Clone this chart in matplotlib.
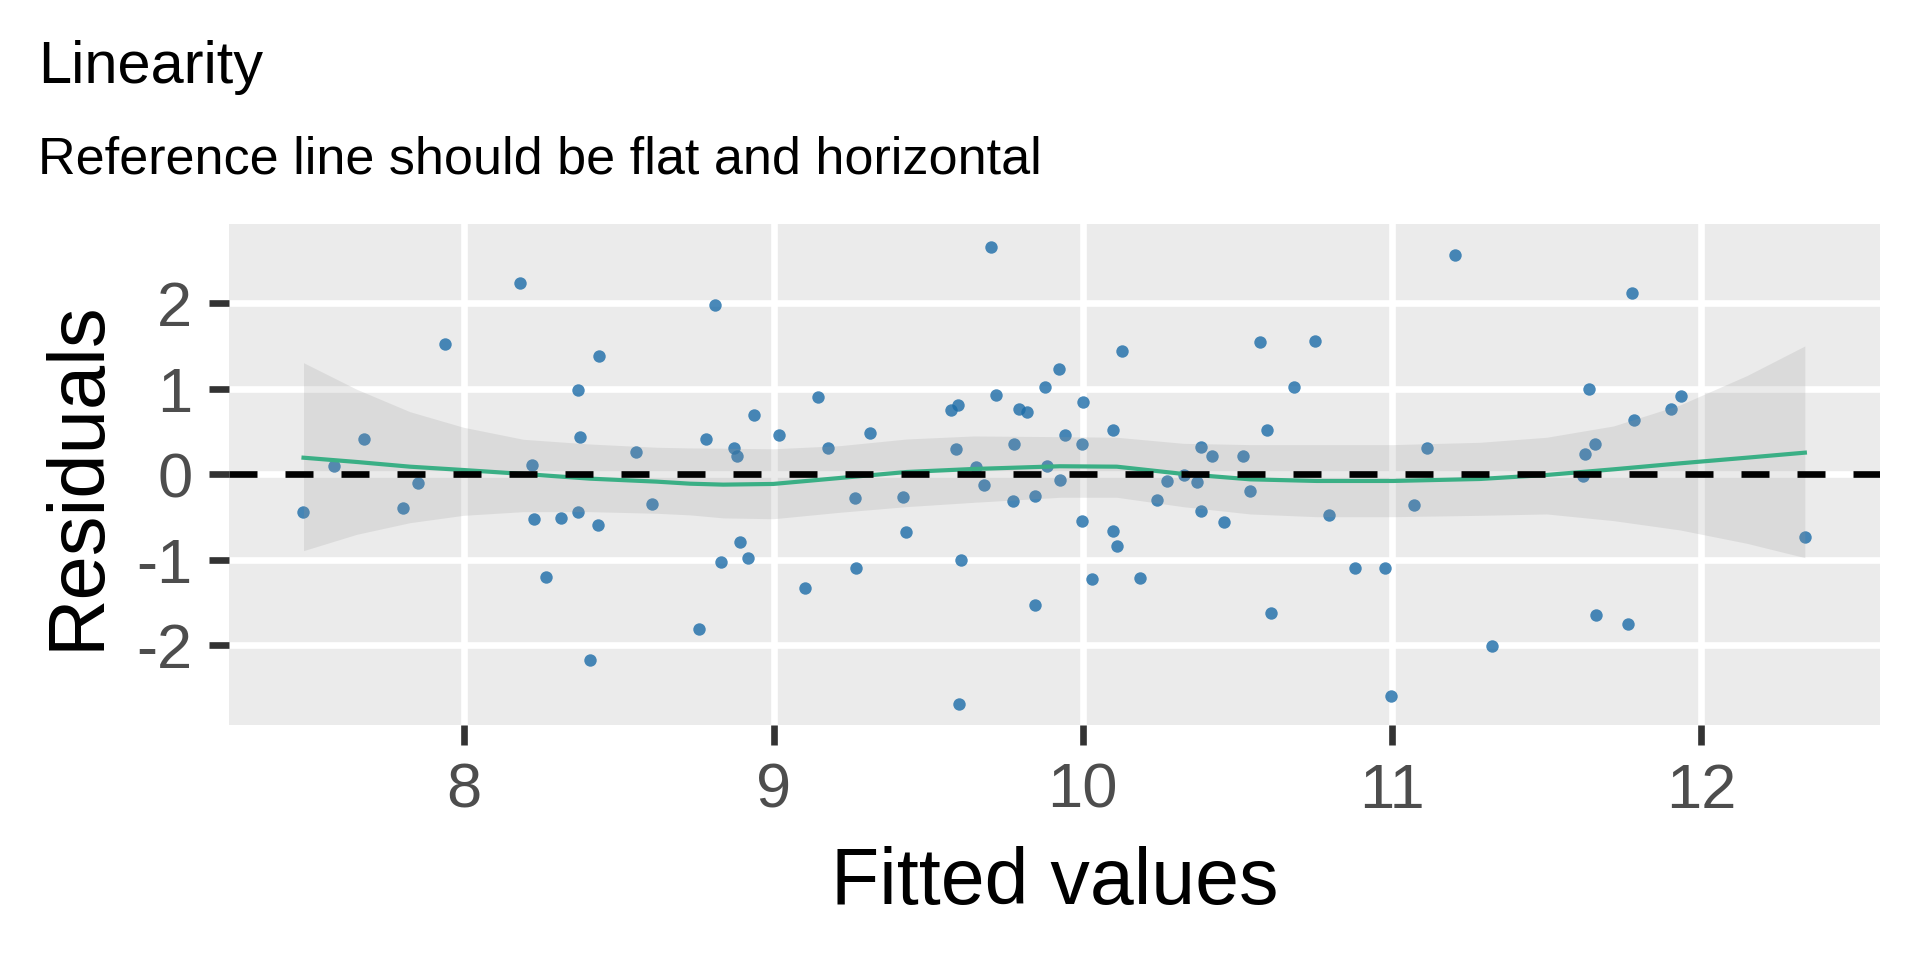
import matplotlib
matplotlib.use("Agg")
import matplotlib.pyplot as plt

plt.rcParams['font.family'] = ['Liberation Sans', 'DejaVu Sans']
plt.rcParams['axes.unicode_minus'] = False

# residuals vs fitted values
fitted = [7.479, 7.580, 7.677, 7.803, 7.851, 7.939, 8.181, 8.437, 8.369, 8.375,
          8.220, 8.226, 8.314, 8.369, 8.432, 8.265, 8.407, 8.556, 8.608, 8.812,
          8.783, 8.873, 8.883, 8.938, 8.760, 8.831, 8.892, 8.918, 9.019, 9.145,
          9.177, 9.103, 9.313, 9.264, 9.268, 9.420, 9.428, 9.575, 9.597, 9.591,
          9.607, 9.601, 9.656, 9.681, 9.704, 9.720, 9.795, 9.821, 9.778, 9.775,
          9.846, 9.846, 9.879, 9.885, 9.923, 9.926, 9.943, 10.001, 9.997, 9.997,
          10.031, 10.128, 10.099, 10.099, 10.112, 10.186, 10.240, 10.273, 10.328, 10.370,
          10.383, 10.419, 10.383, 10.458, 10.519, 10.542, 10.573, 10.597, 10.610, 10.684,
          10.752, 10.797, 10.881, 10.978, 10.998, 11.072, 11.114, 11.205, 11.324, 11.618,
          11.625, 11.657, 11.638, 11.660, 11.764, 11.777, 11.783, 11.903, 11.935, 12.336]
resid = [-0.444, 0.094, 0.409, -0.398, -0.105, 1.520, 2.234, 1.380, 0.982, 0.433,
         0.109, -0.526, -0.515, -0.444, -0.597, -1.205, -2.175, 0.257, -0.351, 1.977,
         0.409, 0.308, 0.211, 0.690, -1.813, -1.029, -0.795, -0.982, 0.456, 0.901,
         0.304, -1.333, 0.480, -0.281, -1.099, -0.269, -0.678, 0.749, 0.807, 0.292,
         -1.006, -2.690, 0.085, -0.129, 2.655, 0.924, 0.760, 0.725, 0.351, -0.316,
         -0.257, -1.532, 1.018, 0.094, 1.228, -0.070, 0.456, 0.842, 0.351, -0.550,
         -1.228, 1.439, 0.515, -0.667, -0.842, -1.216, -0.304, -0.082, -0.012, -0.094,
         0.316, 0.211, -0.433, -0.561, 0.211, -0.199, 1.544, 0.515, -1.626, 1.018,
         1.556, -0.480, -1.099, -1.099, -2.597, -0.363, 0.304, 2.561, -2.012, -0.016,
         0.234, 0.351, 0.994, -1.649, -1.754, 2.117, 0.632, 0.760, 0.912, -0.737]

# smoothed reference line and its confidence band
smooth_x = [7.480, 7.652, 7.824, 7.997, 8.191, 8.406, 8.622, 8.730, 8.837, 8.999,
            9.215, 9.431, 9.646, 9.926, 10.11, 10.325, 10.541, 10.756, 11.004, 11.284,
            11.500, 11.716, 11.931, 12.147, 12.335]
smooth_y = [0.194, 0.144, 0.089, 0.050, 0.004, -0.051, -0.086, -0.110, -0.121, -0.113,
            -0.043, 0.027, 0.062, 0.094, 0.089, 0.004, -0.059, -0.078, -0.078, -0.055,
            -0.008, 0.058, 0.128, 0.194, 0.253]
band_hi = [1.305, 0.994, 0.732, 0.550, 0.409, 0.354, 0.316, 0.308, 0.305, 0.298,
           0.335, 0.413, 0.448, 0.440, 0.433, 0.362, 0.347, 0.347, 0.347, 0.374,
           0.433, 0.565, 0.811, 1.153, 1.501]
band_lo = [-0.893, -0.702, -0.566, -0.480, -0.437, -0.437, -0.456, -0.475, -0.510, -0.520,
           -0.444, -0.378, -0.328, -0.269, -0.269, -0.379, -0.464, -0.496, -0.496, -0.480,
           -0.464, -0.542, -0.651, -0.807, -0.975]

x_ticks = [8, 9, 10, 11, 12]
y_ticks = [-2, -1, 0, 1, 2]

W, H = 1920, 960
fig = plt.figure(figsize=(19.2, 9.6), dpi=100)
ax = fig.add_axes([229 / W, 1 - 725 / H, (1880 - 229) / W, (725 - 224) / H])
ax.set_facecolor('#ebebeb')
for s in ax.spines.values():
    s.set_visible(False)

ax.scatter(fitted, resid, s=80, color='#1b6ca8', alpha=0.8, linewidths=0, zorder=2)
ax.fill_between(smooth_x, band_lo, band_hi, color='#999999', alpha=0.2, linewidth=0, zorder=3)
ax.plot(smooth_x, smooth_y, color='#3aaf85', lw=3.0, zorder=4)
ax.axhline(0, color='black', lw=4.8, linestyle=(0, (4.2, 4.2)), dash_capstyle='butt', zorder=5)

ax.set_xlim(7.239, 12.578)
ax.set_ylim(-2.932, 2.927)
ax.set_xticks(x_ticks)
ax.set_yticks(y_ticks)
ax.set_xticklabels([str(t) for t in x_ticks])
ax.set_yticklabels([str(t) for t in y_ticks])
ax.set_axisbelow(True)
ax.grid(True, color='white', lw=4.8)
ax.tick_params(axis='both', length=14.4, width=4.8, color='#333333',
               labelcolor='#4d4d4d', labelsize=45.5, pad=12)

fig.text(38 / W, 1 - 83 / H, "Linearity", fontsize=42.8, va='baseline', ha='left')
fig.text(38 / W, 1 - 174 / H, "Reference line should be flat and horizontal",
         fontsize=37.5, va='baseline', ha='left')
fig.text(99 / W, 1 - 475 / H, "Residuals", fontsize=57.3, rotation=90,
         ha='center', va='baseline', rotation_mode='anchor')
fig.text(1054.5 / W, 1 - 904 / H, "Fitted values", fontsize=56.8,
         ha='center', va='baseline')

fig.savefig("out.png", dpi=100)
